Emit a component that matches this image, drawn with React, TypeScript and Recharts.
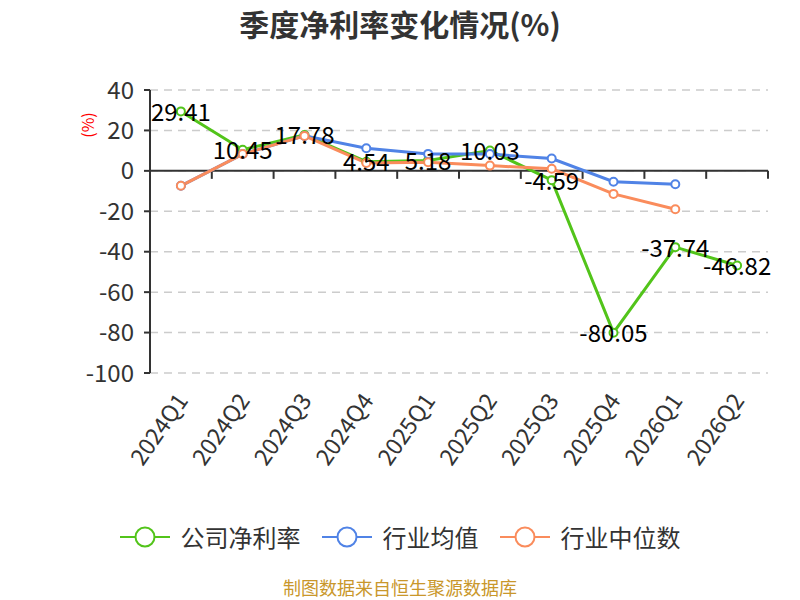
import React from "react";
import {
  LineChart,
  Line,
  XAxis,
  YAxis,
  CartesianGrid,
  ReferenceLine,
  LabelList,
} from "recharts";

const quarters = [
  "2024Q1",
  "2024Q2",
  "2024Q3",
  "2024Q4",
  "2025Q1",
  "2025Q2",
  "2025Q3",
  "2025Q4",
  "2026Q1",
  "2026Q2",
];
const companyRate = [29.41, 10.45, 17.78, 4.54, 5.18, 10.03, -4.59, -80.05, -37.74, -46.82];
const industryAvg = [-7.4, 8.3, 17.3, 11.2, 8.4, 8.3, 6.1, -5.4, -6.6, null];
const industryMedian = [-7.4, 8.3, 17.3, 3.9, 4.3, 2.6, 1.0, -11.4, -19.0, null];
const yTicks = [40, 20, 0, -20, -40, -60, -80, -100];

const FONT = '"Noto Sans CJK SC", "Noto Sans", sans-serif';

const series = [
  { key: "company", name: "公司净利率", color: "#52c41a" },
  { key: "avg", name: "行业均值", color: "#5083e6" },
  { key: "median", name: "行业中位数", color: "#fa8c5c" },
];

const data = quarters.map((quarter, i) => ({
  quarter,
  company: companyRate[i],
  avg: industryAvg[i],
  median: industryMedian[i],
}));

function AngledTick(props: any) {
  const { x, y, payload } = props;
  return (
    <text
      x={x}
      y={y + 14}
      transform={`rotate(-55, ${x}, ${y + 14})`}
      textAnchor="end"
      dominantBaseline="central"
      fontSize={23}
      fill="#333"
      fontFamily={FONT}
    >
      {payload.value}
    </text>
  );
}

// zero line with tick marks on the category boundaries
function ZeroAxis(props: any) {
  const { x1, y1, x2 } = props;
  const n = quarters.length;
  const marks = [];
  for (let i = 0; i <= n; i++) {
    const x = x1 + ((x2 - x1) * i) / n;
    marks.push(<line key={i} x1={x} y1={y1} x2={x} y2={y1 + 8} stroke="#333" strokeWidth={2} />);
  }
  return (
    <g>
      <line x1={x1} y1={y1} x2={x2} y2={y1} stroke="#333" strokeWidth={2} />
      {marks}
    </g>
  );
}

function ValueLabel(props: any) {
  const { x, y, value } = props;
  if (value == null) return null;
  return (
    <text
      x={x}
      y={y - 1}
      textAnchor="middle"
      dominantBaseline="central"
      fontSize={24}
      fill="#000"
      fontFamily={FONT}
    >
      {value}
    </text>
  );
}

function YUnit(props: any) {
  const { viewBox } = props;
  const cx = viewBox.x + 87;
  const cy = 125;
  return (
    <text
      x={cx}
      y={cy}
      transform={`rotate(-90, ${cx}, ${cy})`}
      textAnchor="middle"
      dominantBaseline="central"
      fontSize={16}
      fill="#ff0000"
      fontFamily={FONT}
    >
      (%)
    </text>
  );
}

function LegendIcon({ color }: { color: string }) {
  return (
    <svg width={50} height={24}>
      <line x1={0} y1={12} x2={50} y2={12} stroke={color} strokeWidth={2} />
      <circle cx={25} cy={12} r={9.5} fill="#fff" stroke={color} strokeWidth={2} />
    </svg>
  );
}

export default function App() {
  return (
    <div
      style={{
        position: "absolute",
        left: 0,
        top: 0,
        width: 800,
        height: 600,
        background: "#fff",
        fontFamily: FONT,
      }}
    >
      <div
        style={{
          position: "absolute",
          top: 1,
          width: 800,
          textAlign: "center",
          fontSize: 30,
          fontWeight: "bold",
          color: "#333",
        }}
      >
        季度净利率变化情况(%)
      </div>
      <LineChart
        width={800}
        height={600}
        data={data}
        margin={{ top: 90, right: 32, left: 0, bottom: 0 }}
      >
        <CartesianGrid
          vertical={false}
          stroke="#ccc"
          strokeDasharray="8 6"
          strokeWidth={1.5}
        />
        <XAxis
          dataKey="quarter"
          scale="band"
          height={227}
          interval={0}
          axisLine={false}
          tickLine={false}
          tick={<AngledTick />}
        />
        <YAxis
          width={150}
          domain={[-100, 40]}
          ticks={yTicks}
          interval={0}
          tick={{ fontSize: 24, fill: "#333", fontFamily: FONT }}
          tickLine={{ stroke: "#333", strokeWidth: 2 }}
          tickSize={6}
          tickMargin={10}
          axisLine={{ stroke: "#333", strokeWidth: 2 }}
          label={<YUnit />}
        />
        <ReferenceLine y={0} shape={<ZeroAxis />} />
        {series.map((s) => (
          <Line
            key={s.key}
            dataKey={s.key}
            name={s.name}
            stroke={s.color}
            strokeWidth={3}
            dot={{ r: 4, fill: "#fff", stroke: s.color, strokeWidth: 2 }}
            isAnimationActive={false}
          />
        ))}
        <Line
          dataKey="company"
          stroke="none"
          dot={false}
          activeDot={false}
          legendType="none"
          isAnimationActive={false}
        >
          <LabelList dataKey="company" content={<ValueLabel />} />
        </Line>
      </LineChart>
      <div
        style={{
          position: "absolute",
          top: 524,
          width: 800,
          display: "flex",
          justifyContent: "center",
          alignItems: "center",
          fontSize: 24,
          color: "#333",
        }}
      >
        {series.map((s, i) => (
          <div
            key={s.key}
            style={{
              display: "flex",
              alignItems: "center",
              marginLeft: i === 0 ? 0 : 21,
            }}
          >
            <LegendIcon color={s.color} />
            <span style={{ marginLeft: 11, lineHeight: "26px" }}>{s.name}</span>
          </div>
        ))}
      </div>
      <div
        style={{
          position: "absolute",
          top: 577,
          width: 800,
          textAlign: "center",
          fontSize: 18,
          lineHeight: "20px",
          color: "#c9972b",
        }}
      >
        制图数据来自恒生聚源数据库
      </div>
    </div>
  );
}
